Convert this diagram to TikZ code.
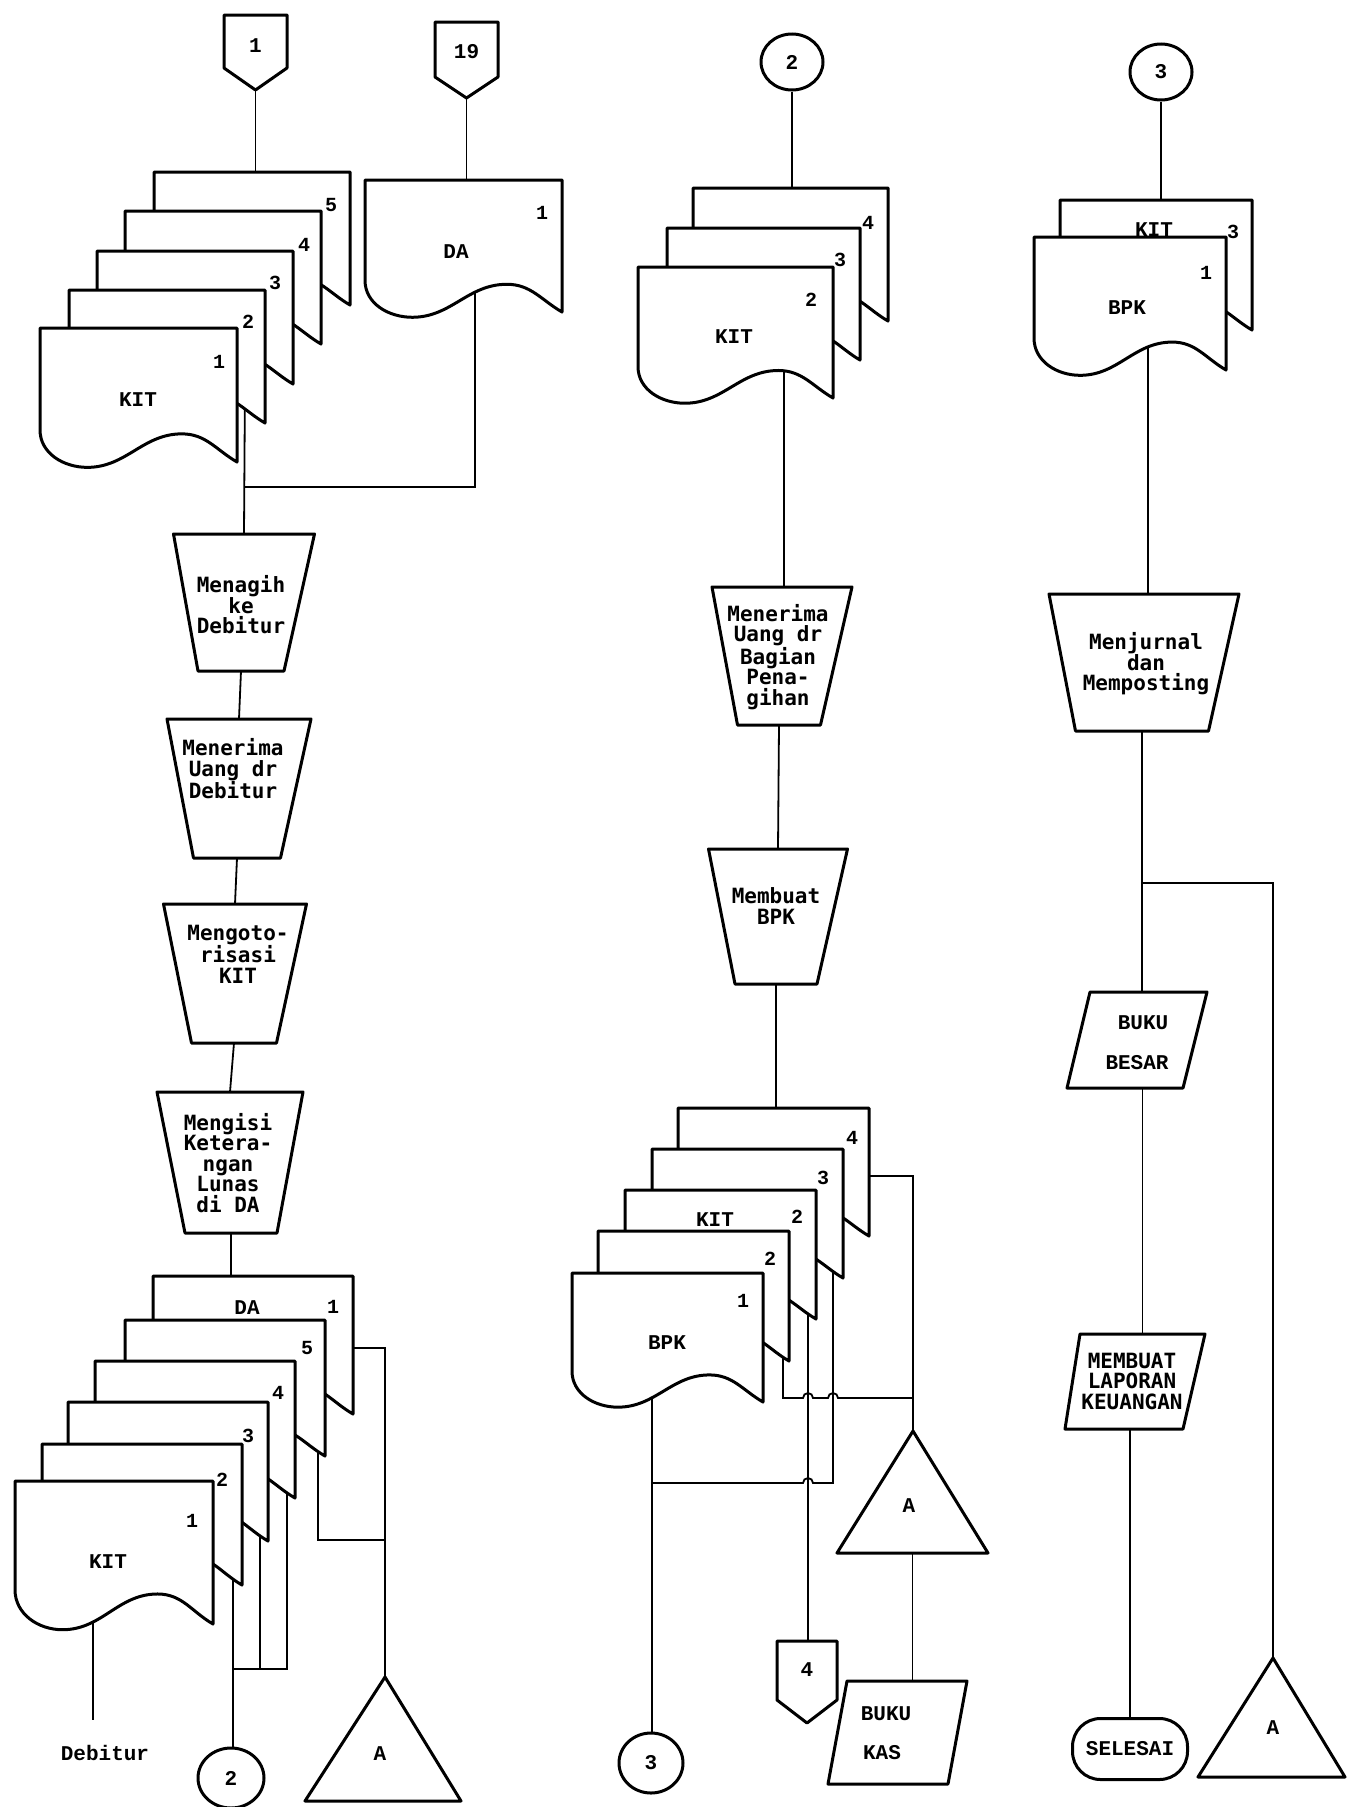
\documentclass[tikz,border=0pt]{standalone}
\usepackage{fontspec}
\setmainfont{Liberation Mono}
\newfontfamily\dotfont{DejaVu Sans Mono}
\usetikzlibrary{shapes.geometric,backgrounds}
\pgfdeclarelayer{paper}
\pgfsetlayers{paper,background,main}

\tikzset{
  shp/.style={line width=3pt, line join=round, fill=white},
  conn/.style={line width=1.8pt},
  lbl/.style={font=\bfseries\fontsize{21}{21}\selectfont, inner sep=0pt},
  num/.style={font=\bfseries\fontsize{20}{20}\selectfont, inner sep=0pt},
  ptxt/.style={font=\dotfont\bfseries\fontsize{21}{20.5}\selectfont, align=center, inner sep=0pt},
  connector/.style={draw, ellipse, line width=3pt, fill=white, inner sep=0pt,
    font=\bfseries\fontsize{21}{21}\selectfont},
  terminal/.style={draw, rectangle, rounded corners=28pt, line width=3pt, fill=white,
    minimum width=115pt, minimum height=61pt, inner sep=0pt,
    font=\bfseries\fontsize{21}{21}\selectfont},
}

% document symbol: name, left x, top y, width, height
\newcommand\docpage[5]{%
  \pgfmathsetmacro\dpxa{#2}\pgfmathsetmacro\dpya{#3}%
  \pgfmathsetmacro\dpxb{#2+#4}\pgfmathsetmacro\dpyb{#3+#5}%
  \pgfmathsetmacro\dpxp{#2+0.72*#4}\pgfmathsetmacro\dpyp{#3+0.79*#5}%
  \pgfmathsetmacro\dpxt{#2+0.24*#4}\pgfmathsetmacro\dpyt{#3+1.04*#5}%
  \pgfmathsetmacro\dpyl{#3+0.76*#5}%
  \draw[shp] (\dpxa,\dpya) -- (\dpxb,\dpya) -- (\dpxb,\dpyb)
     to[out=150,in=0] (\dpxp,\dpyp) to[out=180,in=0] (\dpxt,\dpyt)
     to[out=180,in=-90] (\dpxa,\dpyl) -- cycle;
  \coordinate (#1) at (\dpxa,\dpya);
}

% manual operation: name, top centre x, top y, top width, bottom centre x, bottom y, bottom width
\newcommand\proc[7]{%
  \draw[shp] ({#2-#4/2},#3) -- ({#2+#4/2},#3) -- ({#5+#7/2},#6) -- ({#5-#7/2},#6) -- cycle;
  \coordinate (#1-n) at (#2,#3);
  \coordinate (#1-s) at (#5,#6);
}

% data symbol: name, top-left x, top-right x, top y, bottom-left x, bottom-right x, bottom y
\newcommand\para[7]{%
  \draw[shp] (#2,#4) -- (#3,#4) -- (#6,#7) -- (#5,#7) -- cycle;
  \coordinate (#1-n) at ({(#2+#3)/2},#4);
  \coordinate (#1-s) at ({(#5+#6)/2},#7);
}

% off-page connector: name, left x, right x, top y, side y, point y, label y, label
\newcommand\offpage[8]{%
  \draw[shp] (#2,#4) -- (#3,#4) -- (#3,#5) -- ({(#2+#3)/2},#6) -- (#2,#5) -- cycle;
  \coordinate (#1-n) at ({(#2+#3)/2},#4);
  \coordinate (#1-s) at ({(#2+#3)/2},#6);
  \node[lbl] (#1) at ({(#2+#3)/2},#7) {#8};
}

% file symbol: name, base left x, base right x, base y, apex x, apex y
\newcommand\archive[6]{%
  \draw[shp] (#5,#6) -- (#3,#4) -- (#2,#4) -- cycle;
  \coordinate (#1-n) at (#5,#6);
  \coordinate (#1-s) at ({(#2+#3)/2},#4);
}

\begin{document}
\begin{tikzpicture}[x=1pt,y=-1pt]
\useasboundingbox (0,0) rectangle (1348,1807);
\begin{pgfonlayer}{paper}
  \fill[white] (0,0) rectangle (1348,1807);
\end{pgfonlayer}

% ===================== column 1 =====================
\offpage{p1}{224}{287}{15}{68}{90}{46}{1}
\offpage{p19}{435}{498}{22}{77}{98}{52}{19}

\docpage{ka5}{154}{172}{196}{133}
\docpage{ka4}{125}{211}{196}{133}
\docpage{ka3}{97}{251}{196}{133}
\docpage{ka2}{69}{290}{196}{133}
\docpage{ka1}{40}{328}{197}{134}
\node[num] (ka5n) at (331,205) {5};
\node[num] (ka4n) at (304,245) {4};
\node[num] (ka3n) at (275,283) {3};
\node[num] (ka2n) at (248,322) {2};
\node[num] (ka1n) at (219,362) {1};
\node[lbl] (ka1t) at (138,400) {KIT};

\docpage{daa}{365}{180}{197}{132}
\node[lbl] (daat) at (456,252) {DA};
\node[num] (daan) at (542,213) {1};

\proc{t1}{244}{534}{141}{241}{671}{86}
\node[ptxt] (t1t) at (241,605) {Menagih\\ke\\Debitur};
\proc{t2}{239}{719}{144}{237}{858}{87}
\node[ptxt] (t2t) at (233,769) {Menerima\\Uang dr\\Debitur};
\proc{t3}{235}{904}{143}{234}{1043}{85}
\node[ptxt] (t3t) at (238,954) {Mengoto-\\risasi\\KIT};
\proc{t4}{230}{1092}{146}{231}{1233}{92}
\node[ptxt] (t4t) at (228,1163) {Mengisi\\Ketera-\\ngan\\Lunas\\di DA};

\docpage{da2}{153}{1276}{200}{138}
\docpage{kb5}{125}{1320}{200}{136}
\docpage{kb4}{95}{1361}{200}{137}
\docpage{kb3}{68}{1402}{200}{139}
\docpage{kb2}{42}{1444}{200}{141}
\docpage{kb1}{15}{1481}{198}{143}
\node[lbl] (da2t) at (247,1308) {DA};
\node[num] (da2n) at (333,1307) {1};
\node[num] (kb5n) at (307,1348) {5};
\node[num] (kb4n) at (278,1393) {4};
\node[num] (kb3n) at (248,1436) {3};
\node[num] (kb2n) at (222,1480) {2};
\node[num] (kb1n) at (192,1521) {1};
\node[lbl] (kb1t) at (108,1562) {KIT};

\node[lbl] (debitur) at (105,1753) {Debitur};
\node[connector, minimum width=66pt, minimum height=60pt] (c2b) at (231,1778) {2};
\archive{ta1}{305}{461}{1801}{385}{1677}
\node[lbl] (ta1t) at (380,1754) {A};

% ===================== column 2 =====================
\node[connector, minimum width=62pt, minimum height=56pt] (c2a) at (792,62) {2};
\docpage{kc4}{693}{188}{195}{133}
\docpage{kc3}{667}{228}{193}{132}
\docpage{kc2}{638}{267}{195}{131}
\node[num] (kc4n) at (868,223) {4};
\node[num] (kc3n) at (840,260) {3};
\node[num] (kc2n) at (811,300) {2};
\node[lbl] (kc2t) at (734,337) {KIT};

\proc{t5}{782}{587}{140}{779}{725}{83}
\node[ptxt] (t5t) at (778,657) {Menerima\\Uang dr\\Bagian\\Pena-\\gihan};
\proc{t6}{778}{849}{139}{776}{984}{82}
\node[ptxt] (t6t) at (776,906) {Membuat\\BPK};

\docpage{kd4}{678}{1108}{191}{128}
\docpage{kd3}{652}{1149}{191}{129}
\docpage{kd2}{625}{1190}{191}{129}
\docpage{kd1}{598}{1231}{191}{130}
\docpage{kd0}{572}{1273}{191}{129}
\node[num] (kd4n) at (852,1138) {4};
\node[num] (kd3n) at (823,1178) {3};
\node[lbl] (kd2t) at (715,1220) {KIT};
\node[num] (kd2n) at (797,1217) {2};
\node[num] (kd1n) at (770,1259) {2};
\node[num] (kd0n) at (743,1301) {1};
\node[lbl] (kd0t) at (667,1343) {BPK};

\archive{ta2}{837}{988}{1553}{913}{1431}
\node[lbl] (ta2t) at (909,1506) {A};
\offpage{p4}{777}{837}{1641}{1700}{1723}{1670}{4}
\para{bk}{847}{967}{1681}{828}{948}{1784}
\node[lbl] (bkt1) at (886,1714) {BUKU};
\node[lbl] (bkt2) at (882,1753) {KAS};
\node[connector, minimum width=64pt, minimum height=60pt] (c3b) at (651,1763) {3};

% ===================== column 3 =====================
\node[connector, minimum width=62pt, minimum height=56pt] (c3a) at (1161,72) {3};
\docpage{ke2}{1060}{200}{192}{130}
\docpage{ke1}{1034}{237}{192}{133}
\node[lbl] (ke2t) at (1154,230) {KIT};
\node[num] (ke2n) at (1233,232) {3};
\node[num] (ke1n) at (1206,273) {1};
\node[lbl] (ke1t) at (1127,308) {BPK};

\proc{t7}{1144}{594}{190}{1142}{731}{133}
\node[ptxt] (t7t) at (1146,664) {Menjurnal\\dan\\Memposting};
\para{bb}{1090}{1207}{992}{1067}{1183}{1088}
\node[lbl] (bbt1) at (1143,1023) {BUKU};
\node[lbl] (bbt2) at (1137,1063) {BESAR};
\para{ml}{1080}{1205}{1334}{1065}{1183}{1429}
\node[ptxt] (mlt) at (1132,1381) {MEMBUAT\\LAPORAN\\KEUANGAN};
\node[terminal] (sel) at (1130,1749) {SELESAI};
\archive{ta3}{1198}{1345}{1777}{1273}{1658}
\node[lbl] (ta3t) at (1273,1728) {A};

% ===================== flow lines =====================
\begin{pgfonlayer}{background}
  % column 1
  \draw[conn] (p1-s) -- (p1-s |- ka5);
  \draw[conn] (p19-s) -- (p19-s |- daa);
  \coordinate (daa-out) at (475,280);
  \coordinate (ka-out) at (245,380);
  \coordinate (j1) at (245,487);
  \draw[conn] (daa-out) |- (j1);
  \draw[conn] (ka-out) -- (t1-n);
  \draw[conn] (t1-s) -- (t2-n);
  \draw[conn] (t2-s) -- (t3-n);
  \draw[conn] (t3-s) -- (t4-n);
  \draw[conn] (t4-s) -- (t4-s |- da2);
  \coordinate (da2-out) at (340,1348);
  \draw[conn] (da2-out) -| (ta1-n);
  \coordinate (kb5-out) at (318,1440);
  \coordinate (j2) at (385,1540);
  \draw[conn] (kb5-out) |- (j2);
  \coordinate (kb2-out) at (233,1570);
  \draw[conn] (kb2-out) -- (kb2-out |- c2b.north);
  \coordinate (kb3-out) at (260,1525);
  \coordinate (kb4-out) at (287,1485);
  \coordinate (j3) at (233,1669);
  \draw[conn] (kb4-out) |- (j3);
  \draw[conn] (kb3-out) -- (kb3-out |- j3);
  \coordinate (kb1-out) at (93,1620);
  \coordinate (deb) at (93,1720);
  \draw[conn] (kb1-out) -- (deb);

  % column 2
  \draw[conn] (c2a) -- (c2a |- kc4);
  \coordinate (kc-out) at (784,360);
  \draw[conn] (kc-out) -- (kc-out |- t5-n);
  \draw[conn] (t5-s) -- (t6-n);
  \draw[conn] (t6-s) -- (t6-s |- kd4);
  \coordinate (kd4-out) at (860,1176);
  \draw[conn] (kd4-out) -| (ta2-n);
  \coordinate (kd1-out) at (783,1345);
  \coordinate (j4) at (913,1398);
  \draw[conn] (kd1-out) -- (783,1398) -- (803,1398)
     arc[start angle=180,end angle=0,radius=5pt] -- (828,1398)
     arc[start angle=180,end angle=0,radius=5pt] -- (j4);
  \coordinate (kd2-out) at (808,1305);
  \draw[conn] (kd2-out) -- (kd2-out |- p4-n);
  \coordinate (kd3-out) at (833,1262);
  \coordinate (j5) at (652,1483);
  \draw[conn] (kd3-out) -- (833,1483) -- (813,1483)
     arc[start angle=0,end angle=180,radius=5pt] -- (j5);
  \coordinate (kd0-out) at (652,1390);
  \draw[conn] (kd0-out) -- (kd0-out |- c3b.north);
  \draw[conn] (ta2-s) -- (ta2-s |- bk-n);

  % column 3
  \draw[conn] (c3a) -- (c3a |- ke2);
  \coordinate (ke-out) at (1148,330);
  \draw[conn] (ke-out) -- (ke-out |- t7-n);
  \draw[conn] (t7-s) -- (t7-s |- bb-n);
  \coordinate (j6) at (1142,883);
  \draw[conn] (j6) -| (ta3-n);
  \draw[conn] (ml-n |- bb-s) -- (ml-n);
  \draw[conn] (sel |- ml-s) -- (sel);
\end{pgfonlayer}
\end{tikzpicture}
\end{document}
